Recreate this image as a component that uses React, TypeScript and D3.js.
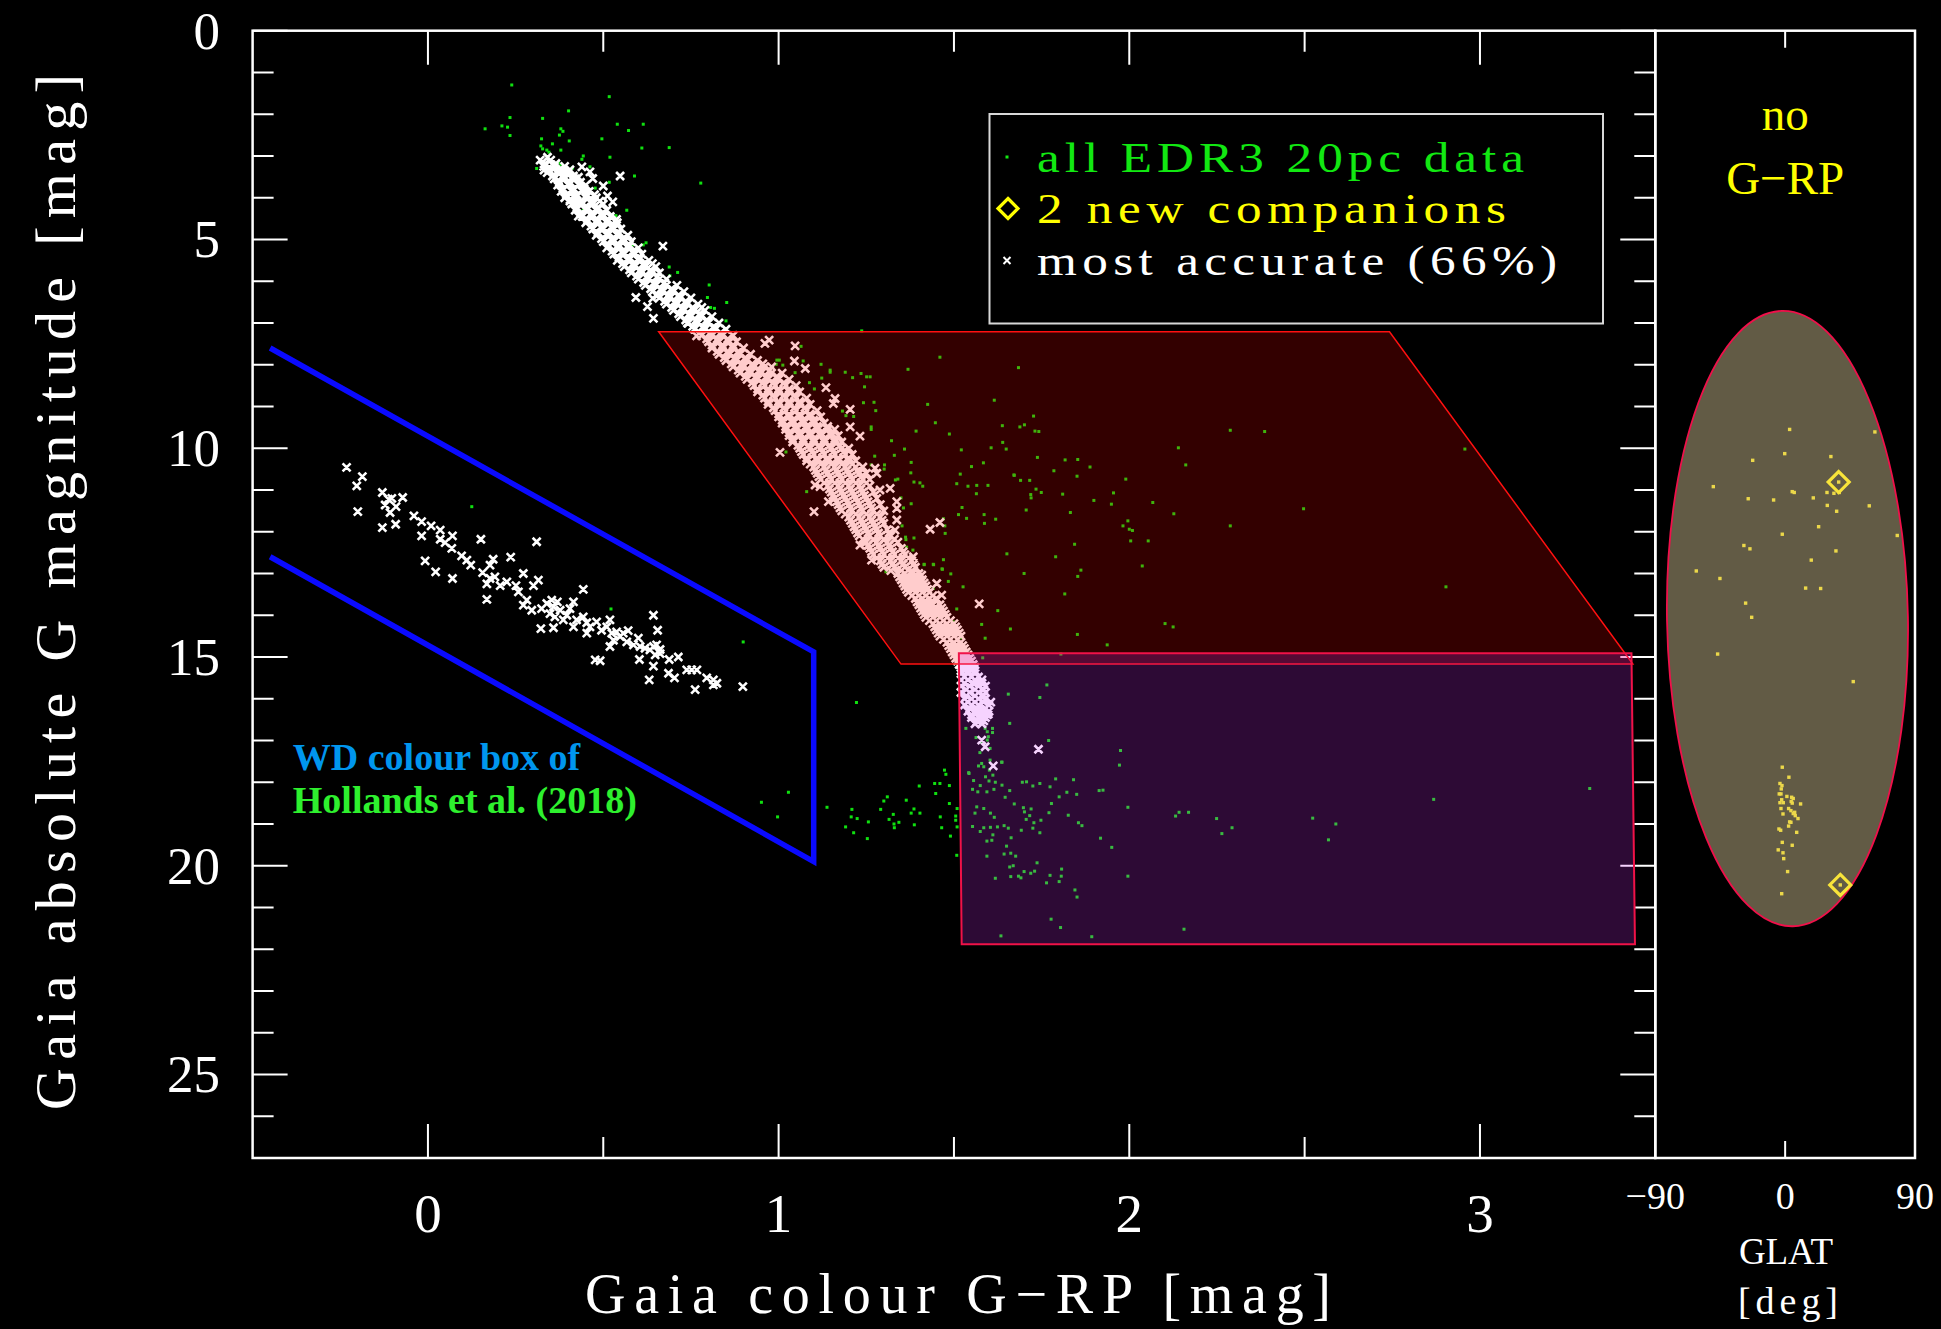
import React from 'react';
import * as d3 from 'd3';

const WIDTH = 1941;
const HEIGHT = 1329;
const FONT = "'Liberation Serif', 'Times New Roman', serif";

// ---- axes -------------------------------------------------------------
const COLOUR_DOMAIN: [number, number] = [-0.5, 3.5];
const MAG_DOMAIN: [number, number] = [0, 27];
const GLAT_DOMAIN: [number, number] = [-90, 90];

const COLOUR_TICKS = [0, 1, 2, 3];
const COLOUR_MINOR_TICKS = [0.5, 1.5, 2.5];
const MAG_TICKS = [0, 5, 10, 15, 20, 25];
const MAG_MINOR_TICKS = [1, 2, 3, 4, 6, 7, 8, 9, 11, 12, 13, 14, 16, 17, 18, 19, 21, 22, 23, 24, 26];
const GLAT_TICKS = [-90, 0, 90];
const GLAT_TICK_LABELS = ['\u221290', '0', '90'];

const LEGEND_LABELS = ['all EDR3 20pc data', '2 new companions', 'most accurate (66%)'];

// ---- selection regions (colour, abs. G mag) ----------------------------
const WD_BOX = [[-0.45, 7.6], [1.1, 14.88], [1.1, 19.9], [-0.45, 12.6]];
const UPPER_REGION = [[0.658, 7.21], [2.742, 7.21], [3.436, 15.17], [1.349, 15.17]];
const LOWER_REGION = [[1.514, 14.91], [3.432, 14.91], [3.442, 21.88], [1.522, 21.88]];
// ellipse in the GLAT panel: centre (b, G), radii (deg, mag), tilt (deg)
const GLAT_ELLIPSE = { b: 1.6, g: 14.08, rb: 83.5, rg: 7.37, tilt: -1 };

// ---- all EDR3 20pc sources (G-RP, M_G) --------------------------------
const ALL_SOURCES = [
  [0.239, 1.30], [0.517, 1.58], [0.401, 1.92], [0.234, 2.08], [0.327, 2.10], [0.163, 2.35], [0.211, 2.28], [0.227, 2.31],
  [0.234, 2.51], [0.379, 2.35], [0.385, 2.41], [0.375, 2.50], [0.540, 2.24], [0.614, 2.24], [0.572, 2.39], [0.324, 2.59],
  [0.403, 2.64], [0.496, 2.59], [0.322, 2.76], [0.327, 2.83], [0.355, 2.71], [0.339, 2.86], [0.345, 2.91], [0.379, 2.86],
  [0.610, 2.81], [0.688, 2.80], [0.519, 3.03], [0.443, 3.00], [0.439, 3.08], [0.372, 3.15], [0.379, 3.20], [0.310, 3.30],
  [0.412, 3.29], [0.462, 3.26], [0.589, 3.48], [0.517, 3.63], [0.778, 3.65], [0.432, 3.74], [0.477, 3.77], [0.567, 4.30],
  [0.536, 4.43], [0.443, 4.31], [0.584, 5.13], [0.614, 5.13], [0.622, 5.08], [0.605, 5.44], [0.688, 5.66], [0.690, 5.87],
  [0.712, 5.79], [0.802, 6.09], [0.797, 6.39], [0.806, 6.63], [0.817, 6.65], [0.852, 6.51], [0.850, 6.95],
  [0.125, 11.40], [0.522, 13.85], [0.899, 14.64],
  [1.237, 7.19], [1.460, 7.82], [1.684, 8.07], [1.064, 7.56], [0.995, 7.89], [1.002, 7.89], [0.993, 7.99], [1.012, 8.01],
  [1.070, 7.91], [1.121, 7.99], [1.147, 8.13], [1.147, 8.18], [1.190, 8.18], [1.235, 8.21], [1.251, 8.29], [1.261, 8.29],
  [1.211, 8.31], [1.123, 8.32], [1.047, 8.19], [1.088, 8.43], [1.102, 8.58], [1.245, 8.53], [1.369, 8.11], [1.615, 8.85],
  [1.242, 8.91], [1.272, 8.90], [1.277, 9.10], [1.425, 8.95], [1.182, 9.11], [1.192, 9.22], [1.214, 9.24], [1.447, 9.39],
  [1.264, 9.49], [1.264, 9.55], [1.392, 9.59], [1.487, 9.66], [1.638, 9.46], [1.688, 9.49], [1.701, 9.44], [1.727, 9.23],
  [1.731, 9.59], [1.742, 9.60], [1.322, 9.82], [1.359, 10.02], [1.330, 10.17], [1.521, 10.04], [1.606, 9.99], [1.639, 9.86],
  [1.649, 10.02], [1.738, 10.22], [1.378, 10.34], [1.274, 10.19], [1.302, 10.40], [1.301, 10.50], [1.264, 10.40], [1.584, 10.35],
  [1.550, 10.44], [1.377, 10.59], [1.518, 10.62], [1.671, 10.64], [1.690, 10.77], [1.716, 10.77], [1.734, 10.98], [1.719, 11.11],
  [1.720, 11.19], [1.333, 10.76], [1.340, 10.74], [1.386, 10.81], [1.403, 10.83], [1.411, 10.91], [1.508, 10.85], [1.540, 10.91],
  [1.565, 10.89], [1.597, 10.89], [1.564, 11.09], [1.349, 11.19], [1.378, 11.33], [1.356, 11.43], [1.523, 11.42], [1.513, 11.59],
  [1.536, 11.68], [1.586, 11.59], [1.587, 11.80], [1.619, 11.70], [1.706, 11.48], [1.470, 11.69], [1.474, 11.86], [1.475, 12.04],
  [1.352, 11.86], [1.362, 12.13], [1.363, 12.19], [1.386, 12.15], [1.365, 12.37], [1.383, 12.44], [1.415, 12.78], [1.441, 12.78],
  [1.470, 12.67], [1.466, 12.89], [1.491, 13.01], [1.484, 13.19], [1.526, 13.32], [1.651, 12.53], [1.700, 13.00], [1.021, 10.09],
  [1.088, 10.36], [1.080, 11.04], [1.306, 12.96],
  [2.288, 9.57], [2.386, 9.60], [2.957, 10.02], [2.140, 9.99], [2.161, 10.40], [1.817, 10.28], [1.853, 10.27], [1.888, 10.45],
  [1.785, 10.54], [1.851, 10.67], [1.990, 10.74], [1.672, 10.65], [1.749, 11.06], [1.810, 11.10], [1.955, 11.07], [1.899, 11.25],
  [1.949, 11.34], [2.067, 11.30], [1.832, 11.54], [2.127, 11.57], [2.497, 11.45], [1.996, 11.74], [1.982, 11.86], [2.000, 11.94],
  [2.009, 11.97], [2.288, 11.86], [1.844, 12.30], [2.004, 12.22], [2.054, 12.22], [1.790, 12.60], [1.862, 12.92], [1.853, 13.07],
  [2.037, 12.82], [1.816, 13.49], [2.903, 13.32], [1.661, 14.33], [1.852, 14.46], [1.937, 14.71], [2.102, 14.20], [2.125, 14.28],
  [1.805, 14.93],
  [1.415, 12.79], [1.442, 12.79], [1.467, 12.90], [1.508, 13.85], [1.498, 14.16], [1.506, 14.26], [1.522, 14.54], [1.589, 14.55],
  [1.579, 14.22], [1.625, 13.89], [1.582, 15.02], [1.441, 13.36], [1.458, 14.03],
  [1.222, 16.09], [1.473, 17.71], [1.477, 17.81], [1.445, 18.03], [1.460, 18.03], [1.487, 18.08], [1.401, 18.09], [1.448, 18.27],
  [1.310, 18.35], [1.300, 18.45], [1.364, 18.43], [1.487, 18.51], [1.209, 18.65], [1.291, 18.65], [1.386, 18.64], [1.378, 18.74],
  [1.403, 18.74], [1.509, 18.63], [1.327, 18.77], [1.315, 18.89], [1.343, 18.96], [1.329, 19.00], [1.330, 19.09], [1.224, 18.87],
  [1.207, 18.83], [1.256, 18.95], [1.387, 19.02], [1.461, 18.83], [1.505, 18.81], [1.505, 18.91], [1.465, 19.09], [1.509, 19.07],
  [1.214, 19.21], [1.253, 19.35], [1.490, 19.29], [1.508, 19.75],
  [0.951, 18.48], [0.997, 18.83], [1.028, 18.24], [1.102, 18.24], [1.138, 18.60], [1.191, 19.07],
  [1.765, 15.67], [1.655, 15.89], [1.745, 15.97], [1.659, 16.59], [1.770, 17.00], [1.975, 17.24], [1.972, 17.59], [1.637, 17.52],
  [1.543, 17.79], [1.585, 17.63], [1.556, 17.96], [1.575, 18.08], [1.611, 17.83], [1.590, 17.87], [1.600, 17.97], [1.618, 18.00],
  [1.637, 18.07], [1.553, 18.17], [1.568, 18.23], [1.594, 18.23], [1.614, 18.17], [1.659, 18.20], [1.646, 18.36], [1.672, 18.52],
  [1.695, 18.00], [1.707, 17.99], [1.725, 18.09], [1.745, 18.03], [1.774, 18.11], [1.790, 17.92], [1.841, 17.94], [1.822, 18.24],
  [1.850, 18.29], [1.914, 18.20], [1.925, 18.19], [1.565, 18.59], [1.585, 18.63], [1.560, 18.74], [1.604, 18.74], [1.615, 18.84],
  [1.553, 19.06], [1.575, 19.18], [1.585, 19.09], [1.604, 19.08], [1.624, 19.07], [1.643, 19.04], [1.655, 19.10], [1.611, 19.26],
  [1.698, 18.61], [1.701, 18.71], [1.720, 18.64], [1.706, 18.89], [1.728, 18.97], [1.748, 18.91], [1.716, 18.80], [1.771, 18.73],
  [1.778, 18.51], [1.800, 18.35], [1.826, 18.79], [1.855, 18.97], [1.865, 19.04], [1.725, 19.10], [1.745, 19.21], [1.692, 19.15],
  [1.918, 19.34], [1.950, 19.56], [1.996, 18.60], [2.132, 18.81], [2.142, 18.72], [2.169, 18.72], [2.249, 18.87], [2.264, 19.23],
  [2.293, 19.09], [2.523, 18.86], [2.589, 19.00], [2.568, 19.38], [2.868, 18.41], [3.313, 18.15], [1.594, 19.41], [1.608, 19.39],
  [1.663, 19.33], [1.650, 19.53], [1.643, 19.72], [1.662, 19.70], [1.676, 19.77], [1.669, 20.00], [1.659, 20.03], [1.737, 19.93],
  [1.594, 19.77], [1.618, 20.30], [1.662, 20.26], [1.684, 20.25], [1.700, 20.14], [1.719, 20.18], [1.730, 20.13], [1.691, 20.29],
  [1.774, 20.23], [1.764, 20.41], [1.800, 20.38], [1.807, 20.08], [1.806, 20.25], [1.845, 20.58], [1.851, 20.75], [1.996, 20.25],
  [1.777, 21.28], [1.804, 21.48], [1.634, 21.68], [1.893, 21.70], [2.156, 21.52],
  [1.534, 16.71], [1.589, 16.71], [1.595, 16.79], [1.610, 16.71], [1.610, 16.81], [1.598, 16.91], [1.595, 16.99], [1.603, 17.19],
  [1.577, 17.05], [1.563, 16.93], [1.574, 17.29], [1.603, 17.47], [1.579, 17.55], [1.570, 17.61], [1.636, 17.52], [1.601, 17.71],
  [1.542, 17.77],
];

// ---- most accurate sources: white dwarf sequence ----------------------
const ACCURATE_WD = [
  [-0.232, 10.46], [-0.187, 10.68], [-0.203, 10.90], [-0.200, 11.52], [-0.130, 11.06], [-0.113, 11.22], [-0.103, 11.20],
  [-0.122, 11.36], [-0.091, 11.40], [-0.108, 11.54], [-0.072, 11.18], [-0.130, 11.90], [-0.092, 11.82], [-0.040, 11.62],
  [-0.018, 11.76], [0.009, 11.86], [0.035, 11.96], [-0.018, 12.10], [0.035, 12.18], [0.049, 12.26], [0.070, 12.10],
  [0.068, 12.40], [0.096, 12.58], [0.111, 12.68], [0.122, 12.80], [-0.008, 12.70], [0.022, 12.96], [0.070, 13.12],
  [0.151, 12.18], [0.186, 12.66], [0.177, 12.80], [0.236, 12.61], [0.156, 12.98], [0.177, 13.12], [0.168, 13.25],
  [0.191, 13.08], [0.206, 13.29], [0.225, 13.20], [0.168, 13.62], [0.251, 13.29], [0.258, 13.44], [0.272, 13.00],
  [0.301, 13.29], [0.315, 13.16], [0.310, 12.24], [0.282, 13.64], [0.272, 13.76], [0.296, 13.88], [0.324, 13.84],
  [0.339, 13.72], [0.353, 13.64], [0.358, 13.80], [0.369, 13.68], [0.377, 13.88], [0.348, 13.96], [0.362, 14.04],
  [0.396, 14.00], [0.405, 13.84], [0.415, 13.68], [0.386, 14.11], [0.424, 14.11], [0.443, 14.04], [0.453, 14.18],
  [0.415, 14.28], [0.453, 14.43], [0.443, 13.38], [0.462, 14.28], [0.481, 14.16], [0.495, 14.36], [0.510, 14.28],
  [0.519, 14.11], [0.524, 14.43], [0.538, 14.40], [0.548, 14.51], [0.557, 14.43], [0.571, 14.37], [0.519, 14.75],
  [0.529, 14.60], [0.567, 14.64], [0.586, 14.71], [0.600, 14.55], [0.605, 14.75], [0.619, 14.79], [0.633, 14.83],
  [0.643, 14.75], [0.652, 14.71], [0.662, 14.82], [0.643, 14.00], [0.655, 14.36], [0.648, 14.95], [0.662, 14.92],
  [0.688, 15.06], [0.714, 15.00], [0.643, 15.22], [0.603, 15.06], [0.477, 15.07], [0.491, 15.09], [0.631, 15.55],
  [0.686, 15.39], [0.703, 15.50], [0.738, 15.31], [0.752, 15.31], [0.767, 15.31], [0.795, 15.50], [0.814, 15.55],
  [0.824, 15.63], [0.814, 15.67], [0.762, 15.78], [0.898, 15.71], [0.322, 14.32], [0.358, 14.30],
];

// ---- most accurate sources: main sequence ridge, rows of [M_G, colours]
const ACCURATE_MS_ROWS: [number, number[]][] = [
  [3.10, [0.32, 0.35]], [3.25, [0.33, 0.36, 0.39]], [3.40, [0.34, 0.37, 0.40]], [3.55, [0.36, 0.39, 0.42]],
  [3.70, [0.37, 0.40, 0.43, 0.45]], [3.85, [0.38, 0.41, 0.44, 0.46]], [4.00, [0.39, 0.42, 0.45, 0.48]],
  [4.15, [0.41, 0.44, 0.47, 0.50]], [4.30, [0.42, 0.45, 0.48, 0.51]], [4.45, [0.44, 0.47, 0.50, 0.52]],
  [4.60, [0.45, 0.48, 0.51, 0.54]], [4.75, [0.47, 0.50, 0.53, 0.55]], [4.90, [0.48, 0.51, 0.54, 0.57]],
  [5.05, [0.50, 0.53, 0.56, 0.58]], [5.20, [0.51, 0.54, 0.57, 0.60]], [5.35, [0.53, 0.56, 0.59, 0.61]],
  [5.50, [0.54, 0.57, 0.60, 0.63]], [5.65, [0.56, 0.59, 0.62, 0.65]], [5.80, [0.58, 0.61, 0.64, 0.66]],
  [5.95, [0.60, 0.63, 0.66, 0.68]], [6.10, [0.62, 0.65, 0.68, 0.71]], [6.25, [0.64, 0.67, 0.70, 0.73]],
  [6.40, [0.66, 0.69, 0.72, 0.75]], [6.55, [0.68, 0.71, 0.74, 0.77]], [6.70, [0.70, 0.73, 0.76, 0.79]],
  [6.85, [0.72, 0.75, 0.78, 0.81]], [7.00, [0.74, 0.77, 0.80, 0.83]], [7.15, [0.76, 0.79, 0.82, 0.85]],
  [7.30, [0.78, 0.81, 0.84, 0.87]], [7.45, [0.80, 0.83, 0.86, 0.88]], [7.60, [0.81, 0.84, 0.87, 0.90]],
  [7.75, [0.83, 0.86, 0.89, 0.92]], [7.90, [0.85, 0.88, 0.91, 0.94]], [8.05, [0.87, 0.90, 0.93, 0.96, 0.98]],
  [8.20, [0.89, 0.92, 0.95, 0.98, 1.01]], [8.35, [0.91, 0.94, 0.97, 1.00, 1.03]], [8.50, [0.93, 0.96, 0.99, 1.02, 1.05]],
  [8.65, [0.94, 0.97, 1.00, 1.03, 1.06]], [8.80, [0.96, 0.99, 1.02, 1.05, 1.08]], [8.95, [0.97, 1.00, 1.03, 1.06, 1.09]],
  [9.10, [0.99, 1.02, 1.05, 1.08, 1.11]], [9.25, [1.00, 1.03, 1.06, 1.09, 1.12]], [9.40, [1.01, 1.04, 1.07, 1.10, 1.13]],
  [9.55, [1.02, 1.05, 1.08, 1.11, 1.14, 1.16]], [9.70, [1.03, 1.06, 1.09, 1.12, 1.15, 1.17]],
  [9.85, [1.04, 1.07, 1.10, 1.13, 1.16, 1.18]], [10.00, [1.06, 1.09, 1.12, 1.15, 1.18, 1.20]],
  [10.15, [1.07, 1.10, 1.13, 1.16, 1.19, 1.21]], [10.30, [1.08, 1.11, 1.14, 1.17, 1.20, 1.22]],
  [10.45, [1.10, 1.13, 1.16, 1.19, 1.22, 1.24]], [10.60, [1.11, 1.14, 1.17, 1.20, 1.23, 1.25]],
  [10.75, [1.12, 1.15, 1.18, 1.21, 1.24, 1.26]], [10.90, [1.14, 1.17, 1.20, 1.23, 1.26]],
  [11.05, [1.15, 1.18, 1.21, 1.24, 1.27]], [11.20, [1.16, 1.19, 1.22, 1.25, 1.28]], [11.35, [1.17, 1.20, 1.23, 1.26, 1.29]],
  [11.50, [1.18, 1.21, 1.24, 1.27, 1.30]], [11.65, [1.20, 1.23, 1.26, 1.29]], [11.80, [1.21, 1.24, 1.27, 1.30]],
  [11.95, [1.22, 1.25, 1.28, 1.31]], [12.10, [1.23, 1.26, 1.29, 1.32]], [12.25, [1.25, 1.28, 1.31, 1.34]],
  [12.40, [1.26, 1.29, 1.32, 1.35]], [12.55, [1.27, 1.30, 1.33, 1.36]], [12.70, [1.29, 1.32, 1.35, 1.38]],
  [12.85, [1.30, 1.33, 1.36, 1.39]], [13.00, [1.34, 1.36, 1.38, 1.40]], [13.15, [1.35, 1.37, 1.39, 1.41]],
  [13.30, [1.36, 1.38, 1.40, 1.42]], [13.45, [1.37, 1.39, 1.41, 1.43]], [13.60, [1.39, 1.41, 1.43, 1.45]],
  [13.75, [1.40, 1.42, 1.44, 1.46]], [13.90, [1.41, 1.43, 1.45, 1.47]], [14.05, [1.42, 1.44, 1.46, 1.48]],
  [14.20, [1.44, 1.46, 1.48, 1.50]], [14.35, [1.45, 1.47, 1.49, 1.51]], [14.50, [1.46, 1.48, 1.50, 1.52]],
  [14.65, [1.48, 1.50, 1.52]], [14.80, [1.49, 1.51, 1.53]], [14.95, [1.50, 1.52, 1.54]], [15.10, [1.51, 1.53, 1.55]],
  [15.25, [1.52, 1.54, 1.56]], [15.40, [1.52, 1.54, 1.56]], [15.55, [1.52, 1.54, 1.56, 1.58]],
  [15.70, [1.52, 1.545, 1.57, 1.59]], [15.85, [1.52, 1.545, 1.57, 1.59]], [16.00, [1.53, 1.55, 1.57, 1.59]],
  [16.15, [1.53, 1.55, 1.57, 1.60]], [16.30, [1.54, 1.56, 1.58, 1.60]], [16.45, [1.55, 1.57, 1.59]], [16.60, [1.56, 1.58]],
];

// second, interleaved set of ridge rows
const ACCURATE_MS_ROWS_B: [number, number[]][] = [
  [3.18, [0.335, 0.365]], [3.33, [0.345, 0.375, 0.405]], [3.48, [0.355, 0.385, 0.415]], [3.63, [0.375, 0.405, 0.435]],
  [3.78, [0.385, 0.415, 0.445]], [3.93, [0.395, 0.425, 0.455, 0.475]], [4.08, [0.405, 0.435, 0.465, 0.49]],
  [4.23, [0.425, 0.455, 0.485]], [4.38, [0.435, 0.465, 0.495]], [4.53, [0.455, 0.485, 0.515]],
  [4.68, [0.465, 0.495, 0.525]], [4.83, [0.485, 0.515, 0.545]], [4.98, [0.495, 0.525, 0.555]],
  [5.13, [0.515, 0.545, 0.575]], [5.28, [0.525, 0.555, 0.585]], [5.43, [0.545, 0.575, 0.605]],
  [5.58, [0.555, 0.585, 0.615, 0.64]], [5.73, [0.575, 0.605, 0.635]], [5.88, [0.595, 0.625, 0.655]],
  [6.03, [0.615, 0.645, 0.675]], [6.18, [0.635, 0.665, 0.695]], [6.33, [0.655, 0.685, 0.715]],
  [6.48, [0.675, 0.705, 0.735]], [6.63, [0.695, 0.725, 0.755]], [6.78, [0.715, 0.745, 0.775]],
  [6.93, [0.735, 0.765, 0.795]], [7.08, [0.755, 0.785, 0.815]], [7.23, [0.775, 0.805, 0.835]],
  [7.38, [0.795, 0.825, 0.855]], [7.53, [0.81, 0.84, 0.87]], [7.68, [0.825, 0.855, 0.885]],
  [7.83, [0.845, 0.875, 0.905]], [7.98, [0.865, 0.895, 0.925, 0.955]], [8.13, [0.885, 0.915, 0.945, 0.975]],
  [8.28, [0.905, 0.935, 0.965, 0.995]], [8.43, [0.925, 0.955, 0.985, 1.015]], [8.58, [0.94, 0.97, 1.00, 1.03]],
  [8.73, [0.955, 0.985, 1.015, 1.045]], [8.88, [0.97, 1.00, 1.03, 1.06]], [9.03, [0.985, 1.015, 1.045, 1.075]],
  [9.18, [1.00, 1.03, 1.06, 1.09]], [9.33, [1.01, 1.04, 1.07, 1.10]], [9.48, [1.02, 1.05, 1.08, 1.11, 1.14]],
  [9.63, [1.03, 1.06, 1.09, 1.12, 1.15]], [9.78, [1.04, 1.07, 1.10, 1.13, 1.16]],
  [9.93, [1.055, 1.085, 1.115, 1.145, 1.175]], [10.08, [1.065, 1.095, 1.125, 1.155, 1.185]],
  [10.23, [1.08, 1.11, 1.14, 1.17, 1.20]], [10.38, [1.09, 1.12, 1.15, 1.18, 1.21]],
  [10.53, [1.105, 1.135, 1.165, 1.195, 1.225]], [10.68, [1.115, 1.145, 1.175, 1.205, 1.235]],
  [10.83, [1.13, 1.16, 1.19, 1.22, 1.25]], [10.98, [1.145, 1.175, 1.205, 1.235]],
  [11.13, [1.155, 1.185, 1.215, 1.245]], [11.28, [1.165, 1.195, 1.225, 1.255]],
  [11.43, [1.175, 1.205, 1.235, 1.265]], [11.58, [1.19, 1.22, 1.25, 1.28]], [11.73, [1.205, 1.235, 1.265, 1.295]],
  [11.88, [1.215, 1.245, 1.275]], [12.03, [1.225, 1.255, 1.285, 1.315]], [12.18, [1.24, 1.27, 1.30, 1.33]],
  [12.33, [1.255, 1.285, 1.315]], [12.48, [1.265, 1.295, 1.325, 1.355]], [12.63, [1.28, 1.31, 1.34, 1.37]],
  [12.78, [1.295, 1.325, 1.355, 1.385]], [12.93, [1.32, 1.35, 1.38]], [13.08, [1.345, 1.365, 1.385]],
  [13.23, [1.355, 1.375, 1.395, 1.415]], [13.38, [1.365, 1.385, 1.405, 1.425]], [13.53, [1.38, 1.40, 1.42, 1.44]],
  [13.68, [1.395, 1.415, 1.435]], [13.83, [1.405, 1.425, 1.445, 1.465]], [13.98, [1.415, 1.435, 1.455, 1.475]],
  [14.13, [1.43, 1.45, 1.47, 1.49]], [14.28, [1.445, 1.465, 1.485, 1.505]], [14.43, [1.455, 1.475, 1.495, 1.515]],
  [14.58, [1.47, 1.49, 1.51]], [14.73, [1.485, 1.505, 1.525]], [14.88, [1.495, 1.515, 1.535]],
  [15.03, [1.505, 1.525, 1.545]], [15.18, [1.515, 1.535, 1.555]], [15.33, [1.52, 1.54, 1.56]],
  [15.48, [1.53, 1.55, 1.57]], [15.63, [1.53, 1.555, 1.58]], [15.78, [1.535, 1.56, 1.585]],
  [15.93, [1.535, 1.56, 1.585]], [16.08, [1.54, 1.56, 1.585, 1.605]], [16.23, [1.545, 1.565, 1.59]],
  [16.38, [1.55, 1.575, 1.595]], [16.53, [1.565, 1.585]],
];

// ---- most accurate sources scattered off the main sequence ridge ------
const ACCURATE_MS_SCATTER = [
  [0.341, 3.03], [0.331, 3.34], [0.358, 3.32], [0.372, 3.58], [0.396, 3.42], [0.405, 3.65], [0.429, 3.51], [0.439, 3.26],
  [0.462, 3.38], [0.470, 3.54], [0.548, 3.48], [0.500, 3.72], [0.512, 3.96], [0.527, 4.10], [0.429, 4.44], [0.538, 4.52],
  [0.670, 5.16], [0.593, 6.39], [0.626, 6.61], [0.643, 6.89], [0.641, 6.41], [0.781, 6.63], [0.742, 7.01], [0.766, 7.31],
  [0.415, 3.98], [0.424, 4.13], [0.405, 4.05],
  [0.961, 7.49], [0.973, 7.41], [1.047, 7.55], [1.045, 7.91], [1.076, 8.09], [1.135, 8.55], [1.161, 8.81], [1.156, 8.93],
  [1.204, 9.07], [1.232, 9.71], [1.204, 9.49], [1.004, 10.10], [1.104, 10.88], [1.118, 10.92], [1.101, 11.52], [1.142, 11.28],
  [1.318, 10.96], [1.337, 11.28], [1.337, 11.44], [1.337, 11.72], [1.332, 11.96], [1.432, 11.94], [1.460, 11.78], [1.232, 12.32],
  [1.265, 12.68], [1.384, 12.60], [1.408, 13.04], [1.451, 13.24], [1.465, 13.52], [1.275, 10.48], [1.289, 11.00], [1.280, 10.60],
  [1.572, 13.73], [1.598, 16.37], [1.579, 16.99], [1.589, 17.15], [1.612, 17.61], [1.741, 17.21],
];

// ---- sources without G-RP (GLAT, M_G) ---------------------------------
const NO_GRP_SOURCES = [
  [3.1, 9.55], [62.2, 9.61], [-22.5, 10.29], [-0.3, 10.13], [31.7, 10.20], [-49.8, 10.92], [-25.6, 11.21], [-8.0, 11.24],
  [4.9, 11.04], [6.3, 11.06], [19.5, 11.19], [29.0, 11.06], [33.8, 11.08], [37.5, 11.06], [37.1, 10.81], [29.2, 11.37],
  [35.7, 11.51], [58.3, 11.38], [23.2, 11.88], [-2.0, 12.06], [77.7, 12.09], [-28.6, 12.33], [-24.4, 12.41], [35.2, 12.46],
  [18.1, 12.68], [-61.6, 12.94], [-45.2, 13.12], [14.2, 13.35], [24.6, 13.36], [-27.4, 13.71], [-23.2, 14.05], [-46.8, 14.93],
  [47.2, 15.59],
  [-2.0, 17.64], [2.6, 17.88], [-3.6, 18.03], [-2.2, 18.08], [-2.7, 18.16], [-4.1, 18.28], [-2.9, 18.28], [1.2, 18.34],
  [4.5, 18.36], [5.6, 18.39], [-2.4, 18.42], [-1.3, 18.49], [-3.6, 18.49], [4.2, 18.46], [4.9, 18.50], [10.7, 18.52],
  [-2.9, 18.63], [2.4, 18.63], [4.0, 18.68], [-1.5, 18.76], [5.6, 18.75], [7.0, 18.80], [6.6, 18.72], [8.9, 18.87],
  [3.1, 18.95], [4.0, 18.96], [2.4, 19.05], [-4.3, 19.12], [-3.1, 19.15], [8.0, 19.20], [-2.0, 19.44], [4.9, 19.51],
  [-4.8, 19.62], [-1.5, 19.69], [-1.0, 19.83], [1.7, 20.14], [-2.4, 20.67], [38.2, 20.46],
];
const NEW_COMPANIONS = [[37.1, 10.81], [38.2, 20.46]];

// ---- layout -----------------------------------------------------------
const PLOT_LEFT = 252.6;
const PLOT_RIGHT = 1655.3;
const PLOT_TOP = 30.7;
const PLOT_BOTTOM = 1158;
const GLAT_RIGHT = 1915;

const xScale = d3.scaleLinear().domain(COLOUR_DOMAIN).range([PLOT_LEFT, PLOT_RIGHT]);
const yScale = d3.scaleLinear().domain(MAG_DOMAIN).range([PLOT_TOP, PLOT_BOTTOM]);
const bScale = d3.scaleLinear().domain(GLAT_DOMAIN).range([PLOT_RIGHT, GLAT_RIGHT]);

function crossPath(points: number[][], sx: (v: number) => number, sy: (v: number) => number, h: number) {
  const p = d3.path();
  for (const [a, b] of points) {
    const cx = sx(a), cy = sy(b);
    p.moveTo(cx - h, cy - h); p.lineTo(cx + h, cy + h);
    p.moveTo(cx - h, cy + h); p.lineTo(cx + h, cy - h);
  }
  return p.toString();
}

function diamondPath(cx: number, cy: number, r: number) {
  return `M${cx},${cy - r}L${cx + r},${cy}L${cx},${cy + r}L${cx - r},${cy}Z`;
}

export default function App() {
  const msPoints: number[][] = [];
  for (const [g, cols] of ACCURATE_MS_ROWS.concat(ACCURATE_MS_ROWS_B)) for (const c of cols) msPoints.push([c, g]);
  const accurate = [...msPoints, ...ACCURATE_MS_SCATTER, ...ACCURATE_WD];

  const polyLine = d3.line<number[]>().x(d => xScale(d[0])).y(d => yScale(d[1]));

  const MAJ = 35, MIN = 21;
  const tickPath = d3.path();
  for (const v of MAG_TICKS.concat(MAG_MINOR_TICKS)) {
    const len = MAG_TICKS.includes(v) ? MAJ : MIN;
    const y = yScale(v);
    tickPath.moveTo(PLOT_LEFT, y); tickPath.lineTo(PLOT_LEFT + len, y);
    tickPath.moveTo(PLOT_RIGHT, y); tickPath.lineTo(PLOT_RIGHT - len, y);
  }
  for (const v of COLOUR_TICKS.concat(COLOUR_MINOR_TICKS)) {
    const len = COLOUR_TICKS.includes(v) ? MAJ - 1 : MIN;
    const x = xScale(v);
    tickPath.moveTo(x, PLOT_TOP); tickPath.lineTo(x, PLOT_TOP + len);
    tickPath.moveTo(x, PLOT_BOTTOM); tickPath.lineTo(x, PLOT_BOTTOM - len);
  }
  tickPath.moveTo(bScale(0), PLOT_TOP); tickPath.lineTo(bScale(0), PLOT_TOP + 17);
  tickPath.moveTo(bScale(0), PLOT_BOTTOM); tickPath.lineTo(bScale(0), PLOT_BOTTOM - 17);

  const ecx = bScale(GLAT_ELLIPSE.b), ecy = yScale(GLAT_ELLIPSE.g);
  const erx = bScale(GLAT_ELLIPSE.rb) - bScale(0);
  const ery = yScale(GLAT_ELLIPSE.rg) - yScale(0);

  const legendX = 1037;
  const legendBase = [171.7, 223.3, 275];
  const legendLen = [487, 469, 520];
  const legendCol = ['#12e812', '#ffff00', '#ffffff'];
  const legendStretch = 1.22;

  return (
    <svg width={WIDTH} height={HEIGHT} style={{ position: 'absolute', left: 0, top: 0, display: 'block' }}
      fontFamily={FONT}>
      <rect x={0} y={0} width={WIDTH} height={HEIGHT} fill="#000" />

      {/* frames and ticks */}
      <g stroke="#fff" fill="none">
        <rect x={PLOT_LEFT} y={PLOT_TOP} width={PLOT_RIGHT - PLOT_LEFT} height={PLOT_BOTTOM - PLOT_TOP} strokeWidth={2.5} />
        <rect x={PLOT_RIGHT} y={PLOT_TOP} width={GLAT_RIGHT - PLOT_RIGHT} height={PLOT_BOTTOM - PLOT_TOP} strokeWidth={2.5} />
        <path d={tickPath.toString()} strokeWidth={2} />
      </g>

      {/* all sources */}
      <g fill="#10e010">
        {ALL_SOURCES.map(([c, g], i) => (
          <rect key={i} x={xScale(c) - 1.5} y={yScale(g) - 1.5} width={3} height={3} />
        ))}
      </g>

      {/* most accurate */}
      <path d={crossPath(accurate, xScale, yScale, 4)} stroke="#fff" strokeWidth={2.6} fill="none" />

      {/* WD colour box */}
      <path d={polyLine(WD_BOX) || ''} stroke="#0a0aff" strokeWidth={5.5} fill="none" strokeLinejoin="miter" />
      <text x={292.8} y={770} fontSize={38} fontWeight="bold" fill="#0096ee">WD colour box of</text>
      <text x={292.8} y={813} fontSize={38} fontWeight="bold" fill="#2ef02e">Hollands et al. (2018)</text>

      {/* selection regions */}
      <path d={(polyLine(UPPER_REGION) || '') + 'Z'} fill="rgba(255,0,0,0.2)" stroke="#ff1010" strokeWidth={1.5} />
      <path d={(polyLine(LOWER_REGION) || '') + 'Z'} fill="rgba(214,48,252,0.21)" stroke="#f01248" strokeWidth={2} />

      {/* GLAT panel */}
      <ellipse cx={ecx} cy={ecy} rx={erx} ry={ery} transform={`rotate(${GLAT_ELLIPSE.tilt},${ecx},${ecy})`}
        fill="#625b45" stroke="#f0104a" strokeWidth={1.8} />
      <g fill="#ecd84a">
        {NO_GRP_SOURCES.map(([b, g], i) => (
          <rect key={i} x={bScale(b) - 1.7} y={yScale(g) - 1.7} width={3.4} height={3.4} />
        ))}
      </g>
      {NEW_COMPANIONS.map(([b, g], i) => (
        <path key={i} d={diamondPath(bScale(b), yScale(g), 10.5)} fill="none" stroke="#f8e43a" strokeWidth={3.2} />
      ))}
      <text x={bScale(0)} y={130} fontSize={47} fill="#ffff00" textAnchor="middle">no</text>
      <text x={bScale(0)} y={194} fontSize={47} fill="#ffff00" textAnchor="middle">G{'\u2212'}RP</text>

      {/* legend */}
      <rect x={989.5} y={114} width={613.5} height={209.5} fill="none" stroke="#d8d8d8" strokeWidth={2} />
      <rect x={1005.5} y={155.5} width={3} height={3} fill="#12e812" />
      <path d={diamondPath(1008, 208.5, 10)} fill="none" stroke="#ffff00" strokeWidth={3.2} />
      <path d={crossPath([[0, 0]], v => 1007 + v, v => 260.5 + v, 3.5)} stroke="#fff" strokeWidth={2} />
      {LEGEND_LABELS.map((t, i) => (
        <text key={i} transform={`translate(${legendX},${legendBase[i]}) scale(${legendStretch},1)`}
          fontSize={42} fill={legendCol[i]}
          textLength={legendLen[i] / legendStretch} lengthAdjust="spacing">{t}</text>
      ))}

      {/* tick labels */}
      <g fill="#fff">
        {MAG_TICKS.map(v => (
          <text key={v} x={220} y={yScale(v) + 18} fontSize={53} textAnchor="end">{v}</text>
        ))}
        {COLOUR_TICKS.map(v => (
          <text key={v} x={xScale(v)} y={1232} fontSize={55} textAnchor="middle">{v}</text>
        ))}
        {GLAT_TICKS.map((v, i) => (
          <text key={v} x={bScale(v)} y={1209} fontSize={38} textAnchor="middle">{GLAT_TICK_LABELS[i]}</text>
        ))}
      </g>

      {/* axis titles */}
      <g fill="#fff">
        <text transform="translate(75,592) rotate(-90)" fontSize={58} textAnchor="middle"
          textLength={1036} lengthAdjust="spacing">Gaia absolute G magnitude [mag]</text>
        <text x={958} y={1313} fontSize={56} textAnchor="middle" textLength={746} lengthAdjust="spacing">
          Gaia colour G{'\u2212'}RP [mag]
        </text>
        <text x={1786} y={1264} fontSize={37} textAnchor="middle" textLength={94} lengthAdjust="spacing">GLAT</text>
        <text x={1788} y={1314} fontSize={38} textAnchor="middle" textLength={100} lengthAdjust="spacing">[deg]</text>
      </g>
    </svg>
  );
}
